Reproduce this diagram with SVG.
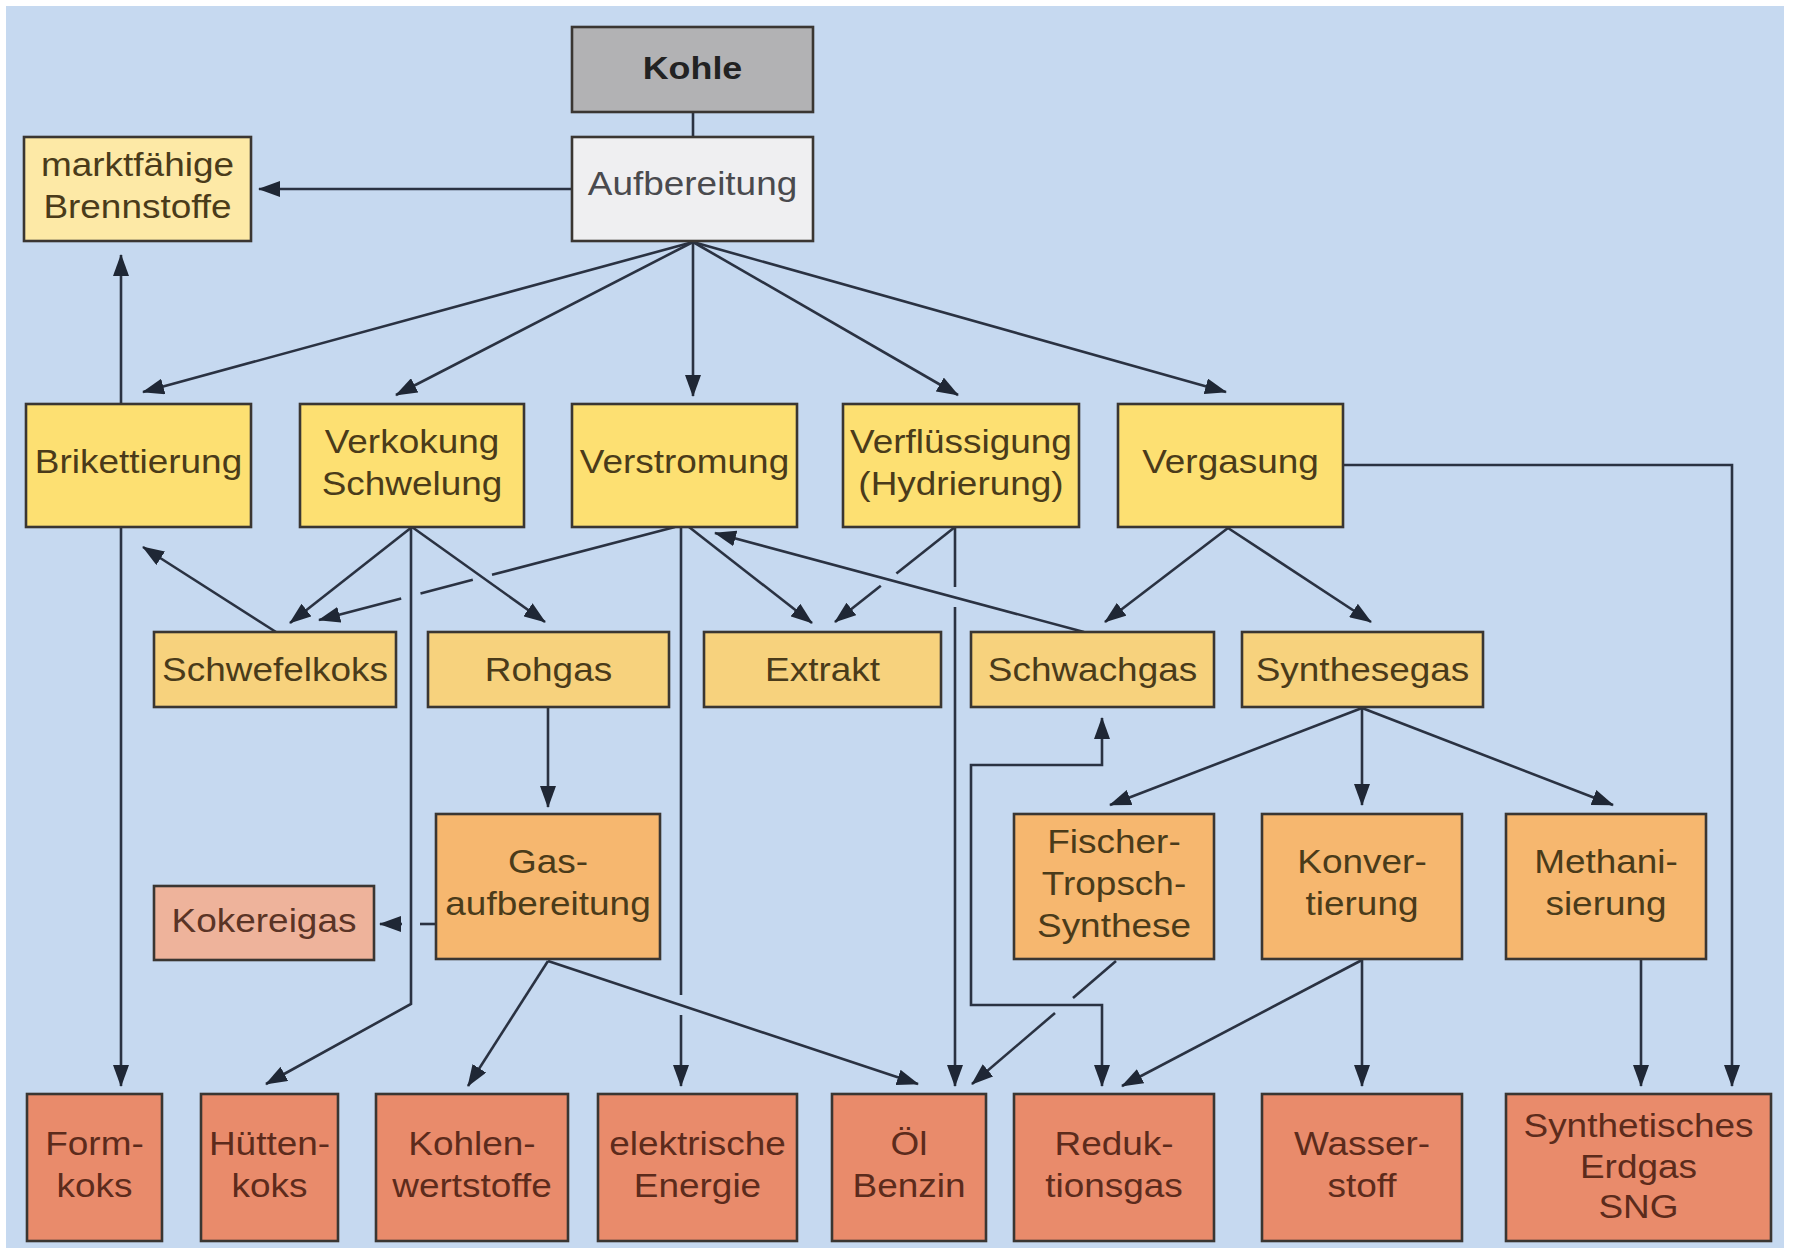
<svg xmlns="http://www.w3.org/2000/svg" width="1795" height="1254" viewBox="0 0 1795 1254">
<style>
.box{stroke:#3a3632;stroke-width:2.6}
.t{font-family:"Liberation Sans",Arial,sans-serif;font-size:33px;text-anchor:middle;fill:#4a3b1a}
.tr{fill:#5c2b1c}
.tg{fill:#4a4a4e}
.c{fill:none;stroke:#2a3242;stroke-width:2.6}
.a{marker-end:url(#ah)}
</style>
<defs>
<marker id="ah" viewBox="0 0 22 16" refX="21" refY="8" markerWidth="22" markerHeight="16" markerUnits="userSpaceOnUse" orient="auto-start-reverse">
<path d="M0,0L22,8L0,16z" fill="#1f2735"/>
</marker>
</defs>
<rect x="0" y="0" width="1795" height="1254" fill="#ffffff"/>
<rect x="6" y="6" width="1778" height="1242" fill="#c6d9f0"/>

<g id="connectors">
<line class="c" x1="693" y1="112" x2="693" y2="137"/>
<line class="c a" x1="572" y1="189" x2="259" y2="189"/>
<line class="c a" x1="693" y1="242" x2="143" y2="392"/>
<line class="c a" x1="693" y1="242" x2="396" y2="395"/>
<line class="c a" x1="693" y1="242" x2="693" y2="396"/>
<line class="c a" x1="693" y1="242" x2="958" y2="395"/>
<line class="c a" x1="693" y1="242" x2="1226" y2="392"/>
<line class="c a" x1="121" y1="404" x2="121" y2="255"/>
<line class="c a" x1="121" y1="527" x2="121" y2="1086"/>
<line class="c a" x1="276" y1="632" x2="143" y2="547"/>
<line class="c a" x1="412" y1="527" x2="290" y2="623"/>
<line class="c a" x1="412" y1="527" x2="545" y2="622"/>
<polyline class="c a" points="411,527 411,1004 266,1084"/>
<line class="c" x1="675" y1="527" x2="492" y2="574.8"/>
<line class="c" x1="472.8" y1="579.8" x2="420.5" y2="593.5"/>
<line class="c a" x1="401.2" y1="598.5" x2="319" y2="620"/>
<line class="c" x1="681" y1="527" x2="681" y2="995"/>
<line class="c a" x1="681" y1="1015" x2="681" y2="1086"/>
<line class="c a" x1="689" y1="527" x2="812" y2="623"/>
<line class="c a" x1="1084" y1="632" x2="715" y2="533"/>
<line class="c" x1="955" y1="527" x2="896.4" y2="573.4"/>
<line class="c a" x1="880.8" y1="585.7" x2="835" y2="622"/>
<line class="c" x1="955" y1="527" x2="955" y2="587"/>
<line class="c a" x1="955" y1="607" x2="955" y2="1086"/>
<line class="c a" x1="548" y1="707" x2="548" y2="807"/>
<line class="c" x1="436" y1="924" x2="420" y2="924"/>
<line class="c a" x1="402" y1="924" x2="380" y2="924"/>
<line class="c a" x1="548" y1="961" x2="468" y2="1086"/>
<line class="c a" x1="548" y1="961" x2="918" y2="1084"/>
<line class="c a" x1="1228" y1="528" x2="1105" y2="622"/>
<line class="c a" x1="1228" y1="528" x2="1371" y2="622"/>
<polyline class="c a" points="1343,465 1732,465 1732,1086"/>
<line class="c a" x1="1362" y1="708" x2="1110" y2="805"/>
<line class="c a" x1="1362" y1="708" x2="1362" y2="805"/>
<line class="c a" x1="1362" y1="708" x2="1613" y2="805"/>
<polyline class="c" points="1102,718 1102,765 971,765 971,1005 1102,1005 1102,1086" marker-start="url(#ah)" marker-end="url(#ah)"/>
<line class="c" x1="1116" y1="961" x2="1073" y2="998"/>
<line class="c a" x1="1055" y1="1013" x2="972" y2="1084"/>
<line class="c a" x1="1362" y1="960" x2="1122" y2="1086"/>
<line class="c a" x1="1362" y1="960" x2="1362" y2="1086"/>
<line class="c a" x1="1641" y1="960" x2="1641" y2="1086"/>
</g>

<g id="kohle">
<rect class="box" x="572" y="27" width="241" height="85" fill="#b2b2b4"/>
<text class="t" style="font-weight:bold;font-size:32px;fill:#222222" transform="translate(692.5,0) scale(1.12,1)"><tspan x="0" y="79">Kohle</tspan></text>
</g>
<g id="aufbereitung">
<rect class="box" x="572" y="137" width="241" height="104" fill="#efeff1"/>
<text class="t tg" transform="translate(692.5,0) scale(1.12,1)"><tspan x="0" y="195">Aufbereitung</tspan></text>
</g>
<g id="marktfaehige">
<rect class="box" x="24" y="137" width="227" height="104" fill="#fde9a6"/>
<text class="t" transform="translate(137.5,0) scale(1.12,1)"><tspan x="0" y="176">marktfähige</tspan><tspan x="0" y="218">Brennstoffe</tspan></text>
</g>

<g id="brikettierung">
<rect class="box" x="26" y="404" width="225" height="123" fill="#fde072"/>
<text class="t" transform="translate(138.5,0) scale(1.12,1)"><tspan x="0" y="473">Brikettierung</tspan></text>
</g>
<g id="verkokung">
<rect class="box" x="300" y="404" width="224" height="123" fill="#fde072"/>
<text class="t" transform="translate(412,0) scale(1.12,1)"><tspan x="0" y="453">Verkokung</tspan><tspan x="0" y="495">Schwelung</tspan></text>
</g>
<g id="verstromung">
<rect class="box" x="572" y="404" width="225" height="123" fill="#fde072"/>
<text class="t" transform="translate(684.5,0) scale(1.12,1)"><tspan x="0" y="473">Verstromung</tspan></text>
</g>
<g id="verfluessigung">
<rect class="box" x="843" y="404" width="236" height="123" fill="#fde072"/>
<text class="t" transform="translate(961,0) scale(1.12,1)"><tspan x="0" y="453">Verflüssigung</tspan><tspan x="0" y="495">(Hydrierung)</tspan></text>
</g>
<g id="vergasung">
<rect class="box" x="1118" y="404" width="225" height="123" fill="#fde072"/>
<text class="t" transform="translate(1230.5,0) scale(1.12,1)"><tspan x="0" y="473">Vergasung</tspan></text>
</g>

<g id="schwefelkoks">
<rect class="box" x="154" y="632" width="242" height="75" fill="#f7d27d"/>
<text class="t" transform="translate(275,0) scale(1.12,1)"><tspan x="0" y="681">Schwefelkoks</tspan></text>
</g>
<g id="rohgas">
<rect class="box" x="428" y="632" width="241" height="75" fill="#f7d27d"/>
<text class="t" transform="translate(548.5,0) scale(1.12,1)"><tspan x="0" y="681">Rohgas</tspan></text>
</g>
<g id="extrakt">
<rect class="box" x="704" y="632" width="237" height="75" fill="#f7d27d"/>
<text class="t" transform="translate(822.5,0) scale(1.12,1)"><tspan x="0" y="681">Extrakt</tspan></text>
</g>
<g id="schwachgas">
<rect class="box" x="971" y="632" width="243" height="75" fill="#f7d27d"/>
<text class="t" transform="translate(1092.5,0) scale(1.12,1)"><tspan x="0" y="681">Schwachgas</tspan></text>
</g>
<g id="synthesegas">
<rect class="box" x="1242" y="632" width="241" height="75" fill="#f7d27d"/>
<text class="t" transform="translate(1362.5,0) scale(1.12,1)"><tspan x="0" y="681">Synthesegas</tspan></text>
</g>

<g id="gasaufbereitung">
<rect class="box" x="436" y="814" width="224" height="145" fill="#f6b76f"/>
<text class="t" transform="translate(548,0) scale(1.12,1)"><tspan x="0" y="873">Gas-</tspan><tspan x="0" y="915">aufbereitung</tspan></text>
</g>
<g id="kokereigas">
<rect class="box" x="154" y="886" width="220" height="74" fill="#eeb39b"/>
<text class="t" style="fill:#5a3426" transform="translate(264,0) scale(1.12,1)"><tspan x="0" y="932">Kokereigas</tspan></text>
</g>
<g id="fischer-tropsch">
<rect class="box" x="1014" y="814" width="200" height="145" fill="#f6b76f"/>
<text class="t" transform="translate(1114,0) scale(1.12,1)"><tspan x="0" y="853">Fischer-</tspan><tspan x="0" y="895">Tropsch-</tspan><tspan x="0" y="937">Synthese</tspan></text>
</g>
<g id="konvertierung">
<rect class="box" x="1262" y="814" width="200" height="145" fill="#f6b76f"/>
<text class="t" transform="translate(1362,0) scale(1.12,1)"><tspan x="0" y="873">Konver-</tspan><tspan x="0" y="915">tierung</tspan></text>
</g>
<g id="methanisierung">
<rect class="box" x="1506" y="814" width="200" height="145" fill="#f6b76f"/>
<text class="t" transform="translate(1606,0) scale(1.12,1)"><tspan x="0" y="873">Methani-</tspan><tspan x="0" y="915">sierung</tspan></text>
</g>

<g id="formkoks">
<rect class="box" x="27" y="1094" width="135" height="147" fill="#e98b6b"/>
<text class="t tr" transform="translate(94.5,0) scale(1.12,1)"><tspan x="0" y="1155">Form-</tspan><tspan x="0" y="1197">koks</tspan></text>
</g>
<g id="huettenkoks">
<rect class="box" x="201" y="1094" width="137" height="147" fill="#e98b6b"/>
<text class="t tr" transform="translate(269.5,0) scale(1.12,1)"><tspan x="0" y="1155">Hütten-</tspan><tspan x="0" y="1197">koks</tspan></text>
</g>
<g id="kohlenwertstoffe">
<rect class="box" x="376" y="1094" width="192" height="147" fill="#e98b6b"/>
<text class="t tr" transform="translate(472,0) scale(1.12,1)"><tspan x="0" y="1155">Kohlen-</tspan><tspan x="0" y="1197">wertstoffe</tspan></text>
</g>
<g id="elektrische-energie">
<rect class="box" x="598" y="1094" width="199" height="147" fill="#e98b6b"/>
<text class="t tr" transform="translate(697.5,0) scale(1.12,1)"><tspan x="0" y="1155">elektrische</tspan><tspan x="0" y="1197">Energie</tspan></text>
</g>
<g id="oel-benzin">
<rect class="box" x="832" y="1094" width="154" height="147" fill="#e98b6b"/>
<text class="t tr" transform="translate(909,0) scale(1.12,1)"><tspan x="0" y="1155">Öl</tspan><tspan x="0" y="1197">Benzin</tspan></text>
</g>
<g id="reduktionsgas">
<rect class="box" x="1014" y="1094" width="200" height="147" fill="#e98b6b"/>
<text class="t tr" transform="translate(1114,0) scale(1.12,1)"><tspan x="0" y="1155">Reduk-</tspan><tspan x="0" y="1197">tionsgas</tspan></text>
</g>
<g id="wasserstoff">
<rect class="box" x="1262" y="1094" width="200" height="147" fill="#e98b6b"/>
<text class="t tr" transform="translate(1362,0) scale(1.12,1)"><tspan x="0" y="1155">Wasser-</tspan><tspan x="0" y="1197">stoff</tspan></text>
</g>
<g id="sng">
<rect class="box" x="1506" y="1094" width="265" height="147" fill="#e98b6b"/>
<text class="t tr" transform="translate(1638.5,0) scale(1.12,1)"><tspan x="0" y="1137">Synthetisches</tspan><tspan x="0" y="1178">Erdgas</tspan><tspan x="0" y="1218">SNG</tspan></text>
</g>
</svg>
